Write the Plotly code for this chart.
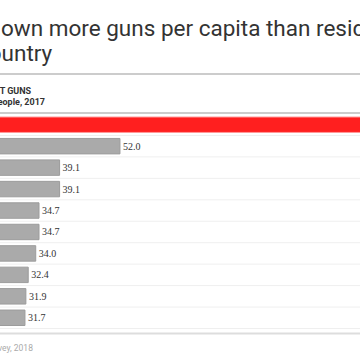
import plotly.graph_objects as go

countries = ["United States", "Yemen", "Montenegro", "Serbia", "Canada",
             "Uruguay", "Cyprus", "Finland", "Lebanon", "Iceland"]
guns_per_100 = [120.5, 52.0, 39.1, 39.1, 34.7, 34.7, 34.0, 32.4, 31.9, 31.7]
highlight = ["United States"]

title_l1a = "Americans"
title_l1b = "own more guns per capita than residents of any other"
title_l2 = "country"
sub_l1 = "MOST GUNS"
sub_l2 = "Civilian firearms per 100 people, 2017"
source = "Source: Small Arms Survey, 2018"

W, H = 360, 361
PT, PB = 114, 329  # plot area top / bottom in pixels


def py(p):
    return (PB - p) / (PB - PT)


def px(p):
    return p / W


colors = ["#ff1f1f" if c in highlight else "#aaaaaa" for c in countries]
lines = ["#ff9a9a" if c in highlight else "#9c9c9c" for c in countries]

fig = go.Figure(go.Bar(
    x=guns_per_100, y=countries, orientation="h",
    marker=dict(color=colors, line=dict(color=lines, width=1)),
    text=[f"{v:.1f}" for v in guns_per_100], textposition="outside",
    textfont=dict(family="Liberation Serif", size=10, color="#333333"),
    constraintext="none", cliponaxis=True, hoverinfo="skip",
))

shapes = []
for i in range(len(countries)):
    shapes.append(dict(type="line", xref="paper", yref="y", x0=-0.5, x1=1,
                       y0=i + 0.5, y1=i + 0.5,
                       line=dict(color="#efefef", width=1), layer="below"))
shapes.append(dict(type="line", xref="paper", yref="paper", x0=-0.5, x1=1,
                   y0=py(74), y1=py(74), line=dict(color="#cccccc", width=2)))
shapes.append(dict(type="line", xref="paper", yref="paper", x0=-0.5, x1=1,
                   y0=py(113), y1=py(113), line=dict(color="#cccccc", width=2)))
shapes.append(dict(type="line", xref="paper", yref="paper", x0=-0.5, x1=1,
                   y0=py(333.5), y1=py(333.5), line=dict(color="#dddddd", width=2)))

ann = []
tfont = dict(family="Roboto", size=22.5, color="#333333")
ann.append(dict(text=title_l1a, x=px(-6), y=py(28), xanchor="right", yanchor="middle", font=tfont))
ann.append(dict(text=title_l1b, x=px(-1), y=py(28), xanchor="left", yanchor="middle", font=tfont))
ann.append(dict(text=title_l2, x=px(55), y=py(53), xanchor="right", yanchor="middle", font=tfont))
sfont = dict(family="Roboto", size=9, color="#333333")
ann.append(dict(text="<b>" + sub_l1 + "</b>", x=px(34), y=py(91), xanchor="right", yanchor="middle", font=sfont))
ann.append(dict(text="<b>" + sub_l2 + "</b>", x=px(47), y=py(102), xanchor="right", yanchor="middle", font=sfont))
ann.append(dict(text=source, x=px(35), y=py(348), xanchor="right", yanchor="middle",
                font=dict(family="Roboto", size=8.5, color="#aaaaaa")))
for a in ann:
    a.update(xref="paper", yref="paper", showarrow=False)

PX_PER_UNIT = 4.68
ZERO_PX = -123.4
x0 = -ZERO_PX / PX_PER_UNIT
x1 = x0 + W / PX_PER_UNIT

fig.update_layout(
    width=W, height=H,
    margin=dict(l=0, r=0, t=PT, b=H - PB, pad=0),
    paper_bgcolor="white", plot_bgcolor="white",
    showlegend=False, bargap=0.28,
    xaxis=dict(range=[x0, x1], visible=False, fixedrange=True),
    yaxis=dict(autorange="reversed", showgrid=False, zeroline=False,
               showticklabels=True, automargin=False, ticks="",
               tickfont=dict(family="Roboto", size=10, color="#333333")),
    shapes=shapes, annotations=ann,
)

fig.write_html("out.html", config={"displayModeBar": False, "staticPlot": True},
               post_script="document.body.style.margin='0';document.body.style.overflow='hidden';")
